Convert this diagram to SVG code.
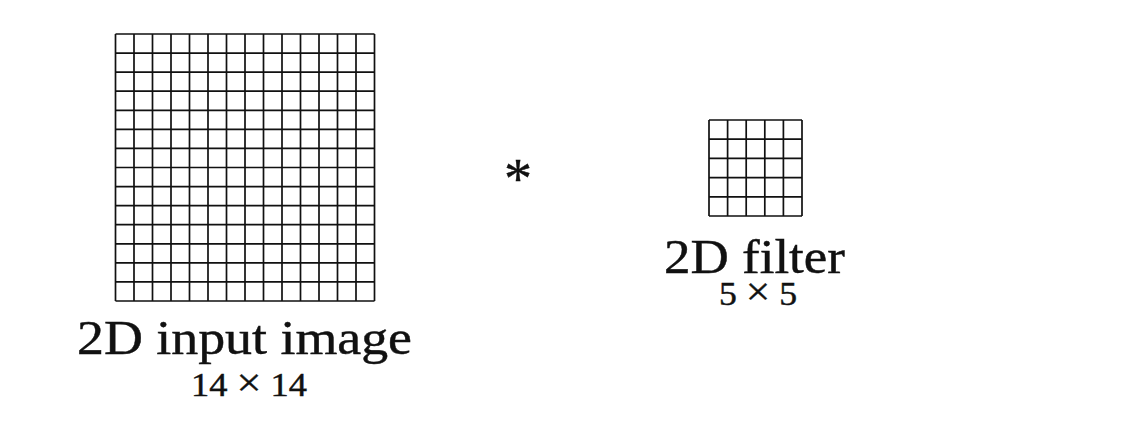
<svg xmlns="http://www.w3.org/2000/svg" width="1144" height="447" viewBox="0 0 1144 447">
<style>
.grid{fill:none;stroke:#111;stroke-width:1.7}
.lbl{font-family:"Liberation Serif","DejaVu Serif",serif;fill:#111;stroke:#111;stroke-width:0.45}
.big{font-size:48px}
.dim{font-size:33px}
.x{font-size:40px}
</style>
<rect width="1144" height="447" fill="#fff"/>
<g id="input-image">
<path class="grid" d="M115.5 34V301M134 34V301M152.5 34V301M171 34V301M189.5 34V301M208 34V301M226.5 34V301M245 34V301M263.5 34V301M282 34V301M300.5 34V301M319 34V301M337.5 34V301M356 34V301M374.5 34V301
M115.5 34H374.5M115.5 53.1H374.5M115.5 72.1H374.5M115.5 91.2H374.5M115.5 110.3H374.5M115.5 129.4H374.5M115.5 148.4H374.5M115.5 167.5H374.5M115.5 186.6H374.5M115.5 205.6H374.5M115.5 224.7H374.5M115.5 243.8H374.5M115.5 262.8H374.5M115.5 281.9H374.5M115.5 301H374.5"/>
<text class="lbl big" x="77" y="354" textLength="335" lengthAdjust="spacingAndGlyphs">2D input image</text>
<text class="lbl dim" x="191" y="396" textLength="116" lengthAdjust="spacingAndGlyphs">14 <tspan class="x">×</tspan> 14</text>
</g>
<g id="operator">
<text class="lbl" x="518" y="198" font-size="56" stroke-width="1" text-anchor="middle">*</text>
</g>
<g id="filter">
<path class="grid" d="M709 120V216M727.6 120V216M746.2 120V216M764.8 120V216M783.4 120V216M802 120V216
M709 120H802M709 139.2H802M709 158.4H802M709 177.6H802M709 196.8H802M709 216H802"/>
<text class="lbl big" x="664" y="273" textLength="181" lengthAdjust="spacingAndGlyphs">2D filter</text>
<text class="lbl dim" x="719" y="305" textLength="78" lengthAdjust="spacingAndGlyphs">5 <tspan class="x">×</tspan> 5</text>
</g>
<g id="connectors"></g>
</svg>
